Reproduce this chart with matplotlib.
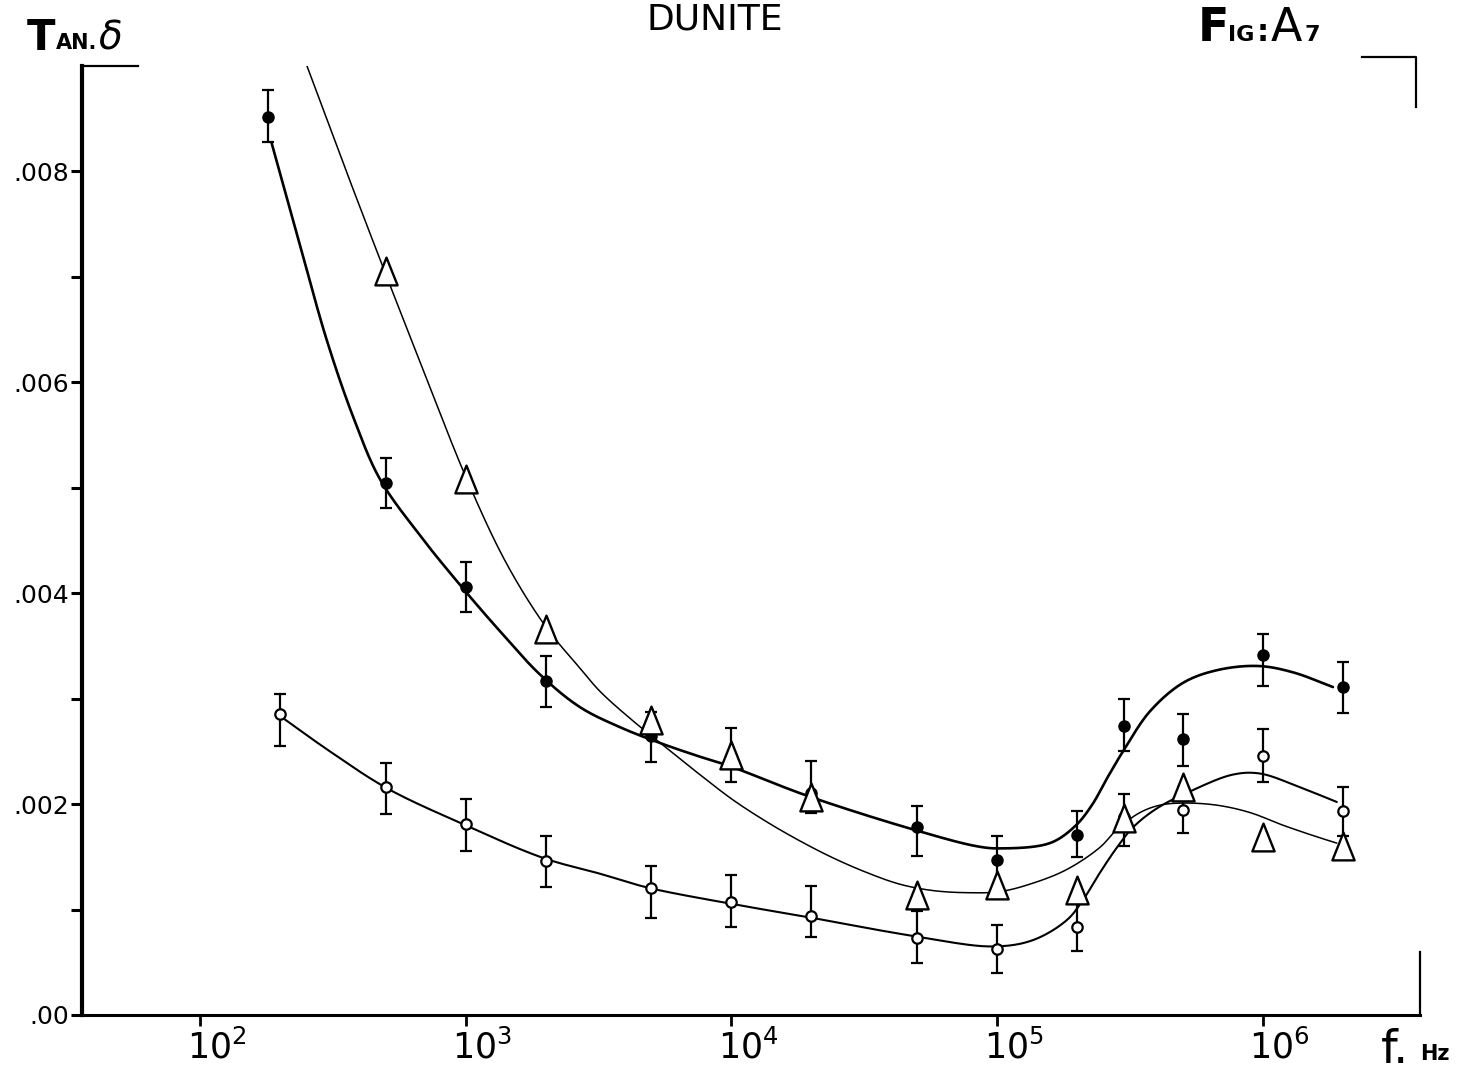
"""Dunite: loss tangent vs frequency, three sample runs with hand-fitted curves."""
import numpy as np
import matplotlib
matplotlib.use("Agg")
import matplotlib.pyplot as plt
from matplotlib.path import Path
from matplotlib.ticker import NullLocator
from matplotlib.transforms import ScaledTranslation

W, H = 1478, 1076

# filled circles, with error bar ends
FREQ_FILLED = [180, 500, 1e3, 2e3, 5e3, 1e4, 2e4, 5e4, 1e5, 2e5, 3e5, 5e5, 1e6, 2e6]
TAN_FILLED = [0.00852, 0.00505, 0.00406, 0.00317, 0.00265, 0.00243, 0.00211,
              0.00178, 0.00147, 0.00171, 0.00274, 0.00262, 0.00341, 0.00311]
LO_FILLED = [0.00828, 0.00481, 0.00382, 0.00292, 0.00240, 0.00221, 0.00192,
             0.00151, 0.00121, 0.00150, 0.00250, 0.00236, 0.00312, 0.00286]
HI_FILLED = [0.00877, 0.00528, 0.00430, 0.00340, 0.00287, 0.00272, 0.00241,
             0.00198, 0.00170, 0.00193, 0.00300, 0.00285, 0.00361, 0.00335]

# open circles, with error bar ends
FREQ_OPEN = [200, 500, 1e3, 2e3, 5e3, 1e4, 2e4, 5e4, 1e5, 2e5, 3e5, 5e5, 1e6, 2e6]
TAN_OPEN = [0.00285, 0.00216, 0.00181, 0.00146, 0.00120, 0.00107, 0.00094,
            0.00073, 0.00063, 0.00083, 0.00188, 0.00194, 0.00246, 0.00193]
LO_OPEN = [0.00255, 0.00191, 0.00156, 0.00121, 0.00092, 0.00083, 0.00074,
           0.00049, 0.00040, 0.00061, 0.00160, 0.00173, 0.00221, 0.00170]
HI_OPEN = [0.00304, 0.00239, 0.00205, 0.00170, 0.00141, 0.00133, 0.00122,
           0.00099, 0.00085, 0.00109, 0.00210, 0.00216, 0.00271, 0.00216]

# open triangles (no error bars)
FREQ_TRI = [500, 1e3, 2e3, 5e3, 1e4, 2e4, 5e4, 1e5, 2e5, 3e5, 5e5, 1e6, 2e6]
TAN_TRI = [0.00706, 0.00508, 0.00366, 0.00280, 0.00247, 0.00207, 0.00114,
           0.00123, 0.00119, 0.00187, 0.00216, 0.00169, 0.00160]

# fitted curves, knots along each line
CURVE_FILLED_F = [186, 238, 300, 380, 476, 672, 951, 1345, 1901, 2689, 3802, 5377,
                  7603, 9862, 19230, 48190, 83900, 1.024e5, 1.578e5, 1.962e5,
                  2.271e5, 2.61e5, 3.025e5, 3.756e5, 5.002e5, 6.71e5, 9.578e5,
                  1.297e6, 1.834e6]
CURVE_FILLED_V = [0.00827, 0.00730, 0.00640, 0.00565, 0.00508, 0.00455, 0.00408,
                  0.00364, 0.00323, 0.00292, 0.00273, 0.00258, 0.00245, 0.00236,
                  0.00208, 0.00176, 0.00160, 0.00158, 0.00163, 0.00179, 0.00199,
                  0.00226, 0.00253, 0.00288, 0.00315, 0.00327, 0.00331, 0.00325,
                  0.00311]

CURVE_TRI_F = [252.7, 354.3, 501, 708.7, 1002, 1418, 2004, 2689, 3199,
               4257, 5715, 7603, 10130, 13610, 18120, 24110, 32370, 43070, 57300,
               76900, 1.024e5, 1.362e5, 1.828e5, 2.436e5, 2.824e5, 3.446e5,
               4.096e5, 5.002e5, 6.71e5, 8.935e5, 1.189e6, 1.595e6, 1.897e6]
CURVE_TRI_V = [0.00900, 0.00801, 0.00702, 0.00605, 0.00510, 0.00429, 0.00368,
               0.00329, 0.00307, 0.00279, 0.00253, 0.00228,
               0.00204, 0.00183, 0.00165, 0.00149, 0.00135, 0.00124, 0.00118,
               0.00116, 0.00117, 0.00125, 0.00138, 0.00159, 0.00176, 0.00192,
               0.00199, 0.00201, 0.00199, 0.00192, 0.00180, 0.00169, 0.00163]

CURVE_OPEN_F = [196.6, 308.3, 505.8, 977.6, 1954, 3199, 4808, 9705, 19230, 48190,
                96350, 1.362e5, 1.828e5, 2.102e5, 2.436e5, 2.824e5, 3.244e5,
                3.992e5, 5.312e5, 7.706e5, 9.744e5, 1.378e6, 1.897e6]
CURVE_OPEN_V = [0.00285, 0.00250, 0.00215, 0.00181, 0.00149, 0.00134, 0.00121,
                0.00106, 0.00093, 0.00075, 0.00065, 0.00071, 0.00090, 0.00109,
                0.00135, 0.00159, 0.00178, 0.00196, 0.00212, 0.00228, 0.00229,
                0.00216, 0.00202]

X_TICKS = [1e2, 1e3, 1e4, 1e5, 1e6]
X_TICK_LABELS = [r"$\mathregular{10^{%d}}$" % k for k in range(2, 7)]
Y_MAJOR = [0.0, 0.002, 0.004, 0.006, 0.008]
Y_MAJOR_LABELS = [".00", ".002", ".004", ".006", ".008"]
Y_MINOR = [0.001, 0.003, 0.005, 0.007]


def smooth(freqs, vals, n=20):
    """Centripetal Catmull-Rom through the knots, worked in screen-like units."""
    P = np.column_stack([np.log10(freqs) * 266.0, np.asarray(vals) * 105400.0])
    P = np.vstack([2 * P[0] - P[1], P, 2 * P[-1] - P[-2]])
    out = []
    for i in range(len(P) - 3):
        p0, p1, p2, p3 = P[i:i + 4]
        t0 = 0.0
        t1 = t0 + np.linalg.norm(p1 - p0) ** 0.5
        t2 = t1 + np.linalg.norm(p2 - p1) ** 0.5
        t3 = t2 + np.linalg.norm(p3 - p2) ** 0.5
        t = np.linspace(t1, t2, n, endpoint=False)[:, None]
        a1 = (t1 - t) / (t1 - t0) * p0 + (t - t0) / (t1 - t0) * p1
        a2 = (t2 - t) / (t2 - t1) * p1 + (t - t1) / (t2 - t1) * p2
        a3 = (t3 - t) / (t3 - t2) * p2 + (t - t2) / (t3 - t2) * p3
        b1 = (t2 - t) / (t2 - t0) * a1 + (t - t0) / (t2 - t0) * a2
        b2 = (t3 - t) / (t3 - t1) * a2 + (t - t1) / (t3 - t1) * a3
        out.append((t2 - t) / (t2 - t1) * b1 + (t - t1) / (t2 - t1) * b2)
    out.append(P[-2][None])
    pts = np.vstack(out)
    return 10 ** (pts[:, 0] / 266.0), pts[:, 1] / 105400.0


def fig_xy(x, y):
    return x / W, 1 - y / H


plt.rcParams["font.family"] = ["DejaVu Sans"]
plt.rcParams["mathtext.default"] = "regular"

fig = plt.figure(figsize=(W / 100, H / 100), dpi=100)
ax = fig.add_axes([82 / W, 1 - 1015 / H, 1338 / W, 949 / H])
ax.set_xscale("log")
ax.set_xlim(10 ** 1.556, 10 ** 6.591)
ax.set_ylim(0, 0.009)

# fitted curves
for fx, fv, lw in ((CURVE_FILLED_F, CURVE_FILLED_V, 1.9),
                   (CURVE_TRI_F, CURVE_TRI_V, 1.1),
                   (CURVE_OPEN_F, CURVE_OPEN_V, 1.5)):
    sx, sy = smooth(fx, fv)
    ax.plot(sx, sy, color="k", lw=lw, zorder=2, solid_capstyle="round")

eb = dict(ecolor="k", elinewidth=1.6, capsize=4.5, capthick=1.6, ls="none", zorder=3)
f = np.array(TAN_FILLED)
ax.errorbar(FREQ_FILLED, f, yerr=[f - np.array(LO_FILLED), np.array(HI_FILLED) - f],
            fmt="o", ms=8, mfc="k", mec="k", **eb)
o = np.array(TAN_OPEN)
ax.errorbar(FREQ_OPEN, o, yerr=[o - np.array(LO_OPEN), np.array(HI_OPEN) - o],
            fmt="o", ms=7.5, mfc="white", mec="k", mew=1.6, **eb)

tri = Path([(-0.4, -0.5), (0.0, 0.5), (0.4, -0.5), (-0.4, -0.5)],
           [Path.MOVETO, Path.LINETO, Path.LINETO, Path.CLOSEPOLY])
ax.plot(FREQ_TRI, TAN_TRI, ls="none", marker=tri, ms=20, mfc="white", mec="k",
        mew=1.7, zorder=4)

# axes frame, drawn like the hand-ruled original
for side in ("top", "right"):
    ax.spines[side].set_visible(False)
ax.spines["left"].set_linewidth(3.0)
ax.spines["bottom"].set_linewidth(2.2)
frame = dict(color="k", lw=1.6, transform=ax.transAxes, clip_on=False)
ax.plot([0, 0.042], [1.0, 1.0], **frame)
ax.plot([0.957, 0.997, 0.997], [1.0095, 1.0095, 0.957], **frame)
ax.plot([1.0, 1.0], [0.0, 0.066], **frame)

ax.xaxis.set_minor_locator(NullLocator())
ax.set_xticks(X_TICKS)
ax.set_xticklabels(X_TICK_LABELS, fontsize=25)
ax.set_yticks(Y_MAJOR)
ax.set_yticklabels(Y_MAJOR_LABELS, fontsize=18)
ax.set_yticks(Y_MINOR, minor=True)
ax.tick_params(axis="x", direction="out", length=8, width=2, pad=2)
ax.tick_params(axis="y", which="both", direction="out", length=8, width=2.2, pad=1)
for lab in ax.get_xticklabels():
    lab.set_transform(lab.get_transform() + ScaledTranslation(12 / 72, 0, fig.dpi_scale_trans))

# headings and axis names
fig.text(*fig_xy(647, 29), "DUNITE", fontsize=26, ha="left", va="baseline")
fig.text(*fig_xy(27, 50), "T", fontsize=30, fontweight="bold", ha="left", va="baseline")
fig.text(*fig_xy(56, 49), "AN.", fontsize=15, fontweight="bold", ha="left", va="baseline")
fig.text(*fig_xy(99, 50), "δ", fontsize=28, style="italic", ha="left", va="baseline")
fig.text(*fig_xy(1198, 41), "F", fontsize=33, fontweight="bold", ha="left", va="baseline")
fig.text(*fig_xy(1228, 41), "IG", fontsize=16, fontweight="bold", ha="left", va="baseline")
fig.text(*fig_xy(1257, 41), ":", fontsize=22, fontweight="bold", ha="left", va="baseline")
fig.text(*fig_xy(1271, 41), "A", fontsize=33, ha="left", va="baseline")
fig.text(*fig_xy(1305, 41), "7", fontsize=16, fontweight="bold", ha="left", va="baseline")
fig.text(*fig_xy(1381, 1063), "f.", fontsize=34, ha="left", va="baseline")
fig.text(*fig_xy(1420, 1060), "Hz", fontsize=15, fontweight="bold", ha="left", va="baseline")

fig.savefig("out.png", dpi=100, facecolor="white")
plt.close(fig)
